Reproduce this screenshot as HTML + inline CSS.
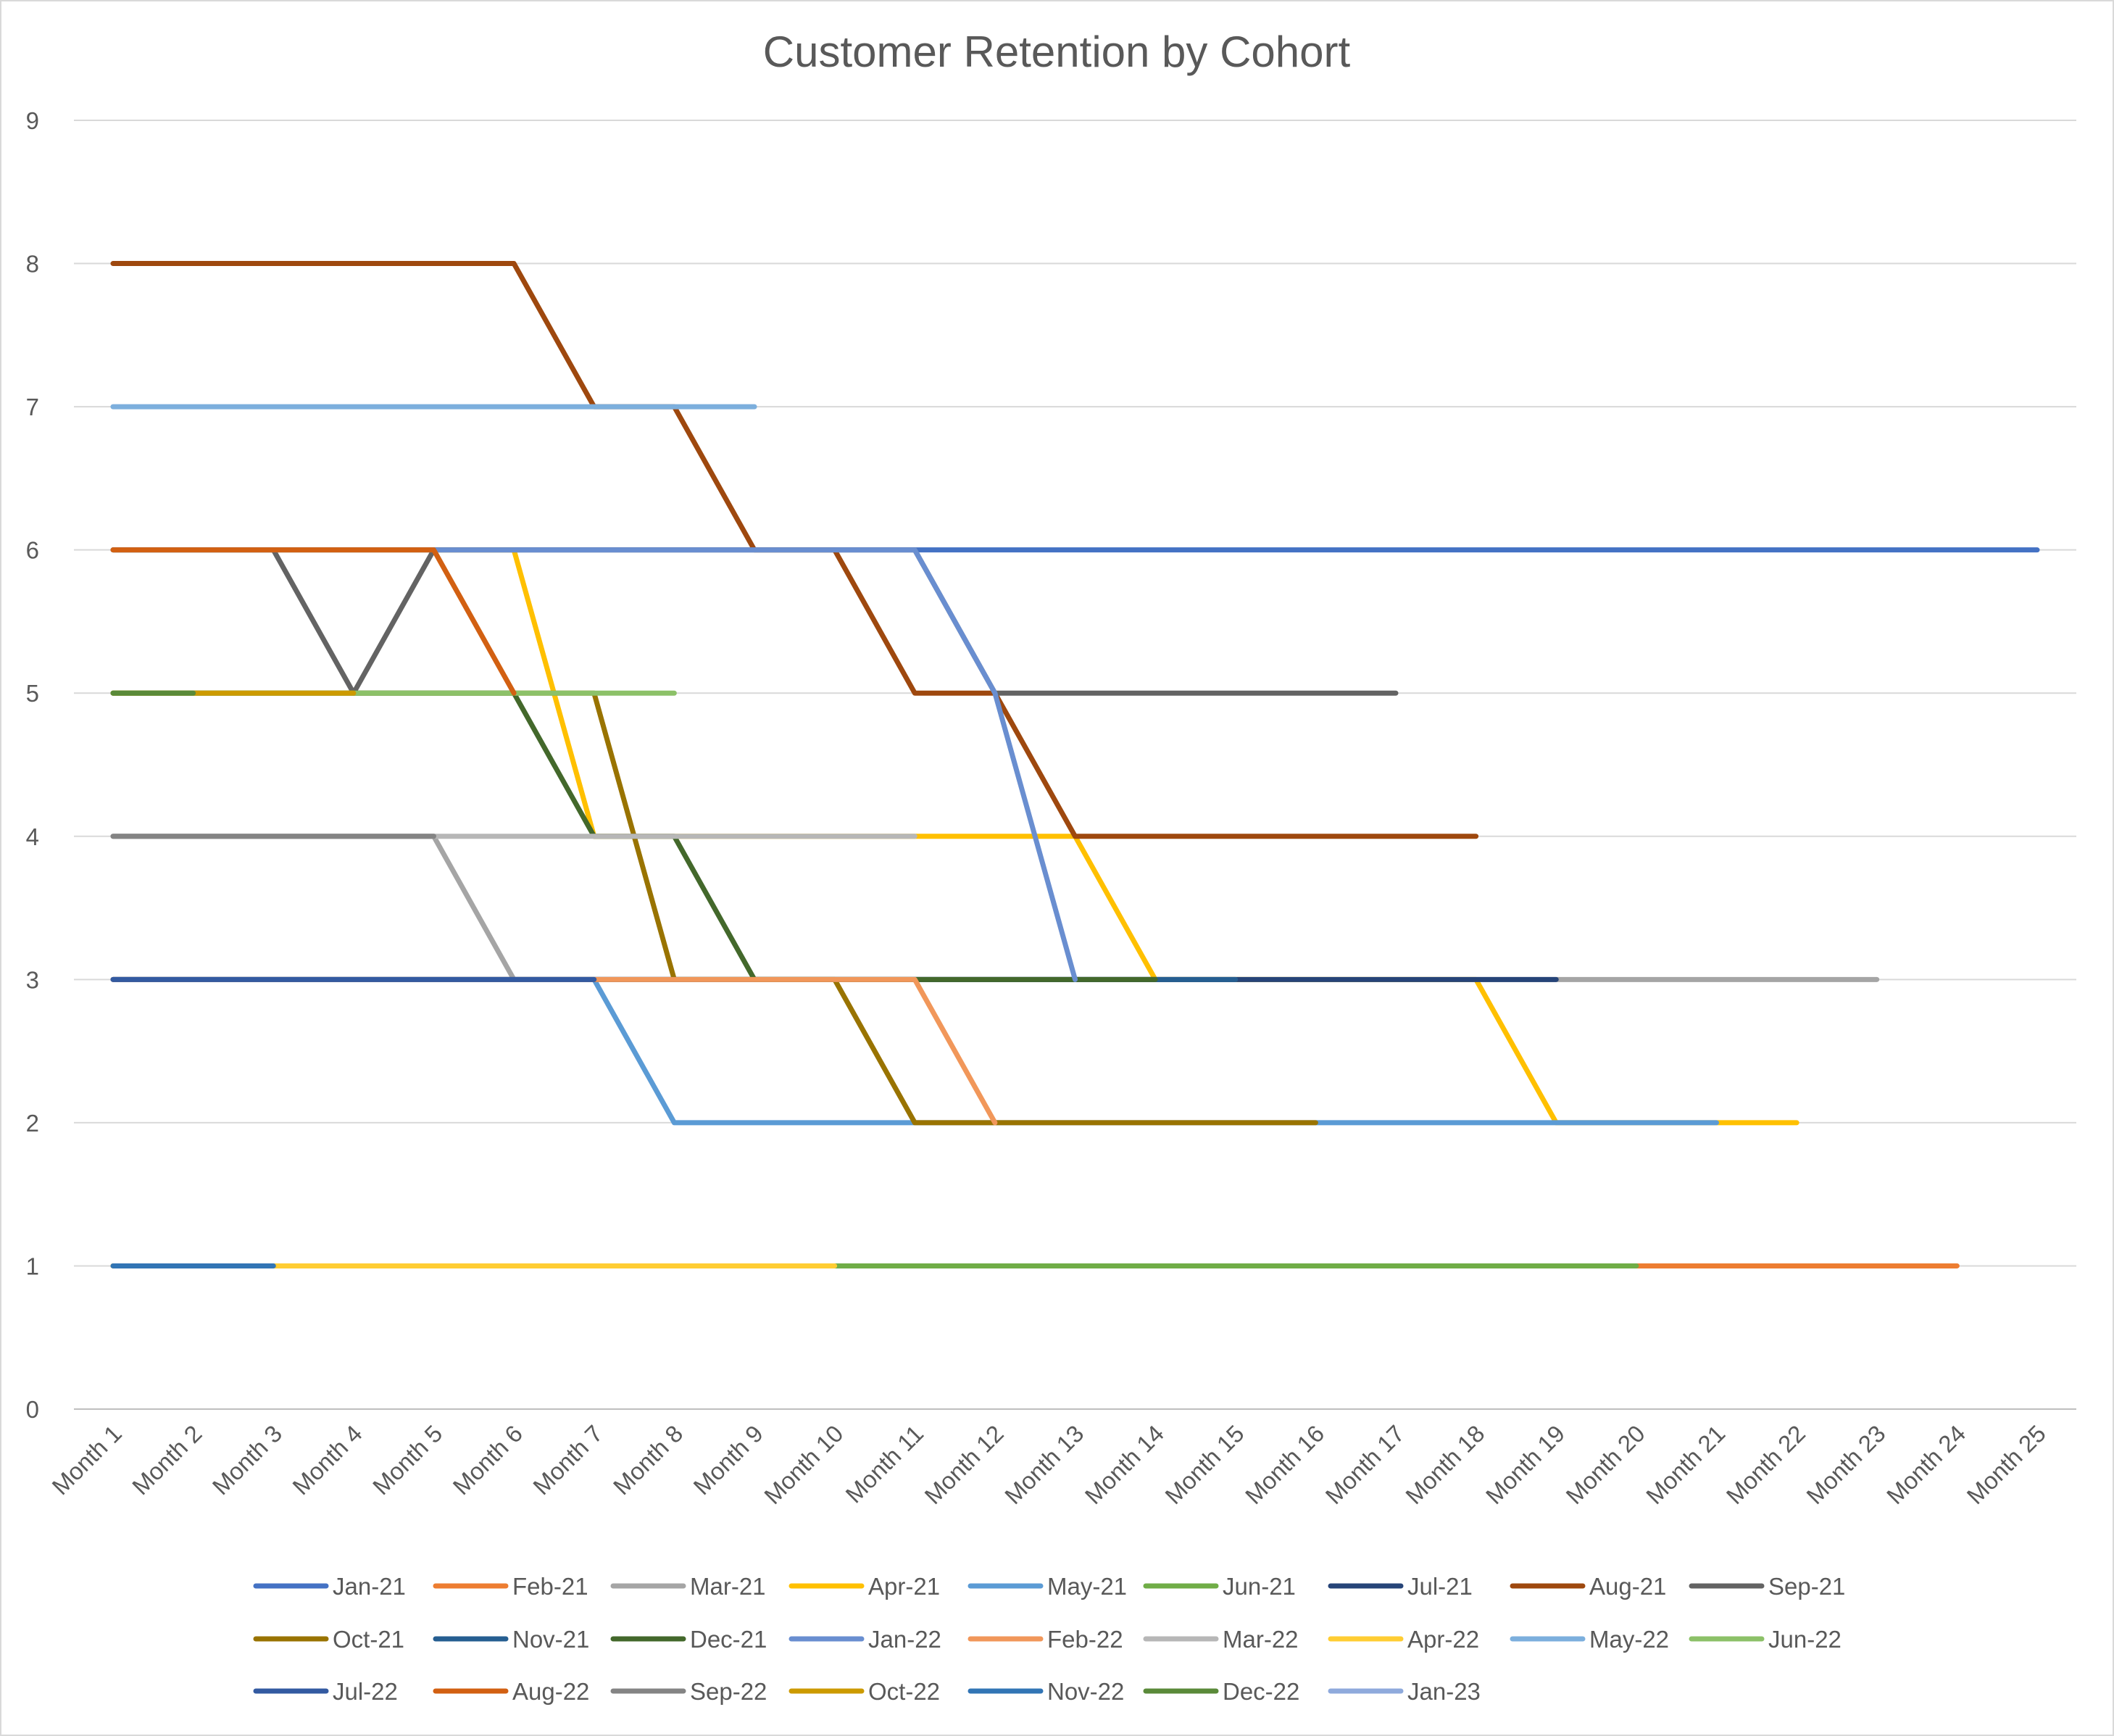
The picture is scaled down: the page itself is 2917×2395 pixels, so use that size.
<!DOCTYPE html>
<html><head><meta charset="utf-8"><style>
html,body{margin:0;padding:0;background:#fff}
svg{display:block;font-family:"Liberation Sans",sans-serif}
</style></head><body>
<svg id="chart" width="2917" height="2395" viewBox="0 0 2917 2395" xmlns="http://www.w3.org/2000/svg">
<rect x="1" y="1" width="2915" height="2393" fill="#fff" stroke="#d9d9d9" stroke-width="2"/>
<text x="1458" y="92" text-anchor="middle" font-size="60" fill="#595959">Customer Retention by Cohort</text>
<g id="grid"></g><g id="series"></g><g id="axes"></g><g id="legend"></g>
</svg>
<script>
const categories = Array.from({length:25},(_,i)=>'Month '+(i+1));
const yTicks = [0,1,2,3,4,5,6,7,8,9];
const cohorts = ['Jan-21','Feb-21','Mar-21','Apr-21','May-21','Jun-21','Jul-21','Aug-21','Sep-21','Oct-21','Nov-21','Dec-21','Jan-22','Feb-22','Mar-22','Apr-22','May-22','Jun-22','Jul-22','Aug-22','Sep-22','Oct-22','Nov-22','Dec-22','Jan-23'];
const colors = ['#4472C4','#ED7D31','#A5A5A5','#FFC000','#5B9BD5','#70AD47','#264478','#9E480E','#636363','#997300','#255E91','#43682B','#698ED0','#F1975A','#B7B7B7','#FFCD33','#7CAFDD','#8CC168','#335AA1','#D26012','#848484','#CC9A00','#3275B5','#5A8A39','#8FAADC'];
const s_jan21=[6,6,6,6,6,6,6,6,6,6,6,6,6,6,6,6,6,6,6,6,6,6,6,6,6];
const s_feb21=[1,1,1,1,1,1,1,1,1,1,1,1,1,1,1,1,1,1,1,1,1,1,1,1];
const s_mar21=[4,4,4,4,4,3,3,3,3,3,3,3,3,3,3,3,3,3,3,3,3,3,3];
const s_apr21=[6,6,6,6,6,6,4,4,4,4,4,4,4,3,3,3,3,3,2,2,2,2];
const s_may21=[3,3,3,3,3,3,3,2,2,2,2,2,2,2,2,2,2,2,2,2,2];
const s_jun21=[1,1,1,1,1,1,1,1,1,1,1,1,1,1,1,1,1,1,1,1];
const s_jul21=[3,3,3,3,3,3,3,3,3,3,3,3,3,3,3,3,3,3,3];
const s_aug21=[8,8,8,8,8,8,7,7,6,6,5,5,4,4,4,4,4,4];
const s_sep21=[6,6,6,5,6,6,6,6,6,6,6,5,5,5,5,5,5];
const s_oct21=[5,5,5,5,5,5,5,3,3,3,2,2,2,2,2,2];
const s_nov21=[3,3,3,3,3,3,3,3,3,3,3,3,3,3,3];
const s_dec21=[5,5,5,5,5,5,4,4,3,3,3,3,3,3];
const s_jan22=[6,6,6,6,6,6,6,6,6,6,6,5,3];
const s_feb22=[3,3,3,3,3,3,3,3,3,3,3,2];
const s_mar22=[4,4,4,4,4,4,4,4,4,4,4];
const s_apr22=[1,1,1,1,1,1,1,1,1,1];
const s_may22=[7,7,7,7,7,7,7,7,7];
const s_jun22=[5,5,5,5,5,5,5,5];
const s_jul22=[3,3,3,3,3,3,3];
const s_aug22=[6,6,6,6,6,5];
const s_sep22=[4,4,4,4,4];
const s_oct22=[5,5,5,5];
const s_nov22=[1,1,1];
const s_dec22=[5,5];
const s_jan23=[6];
const seriesValues=[s_jan21,s_feb21,s_mar21,s_apr21,s_may21,s_jun21,s_jul21,s_aug21,s_sep21,s_oct21,s_nov21,s_dec21,s_jan22,s_feb22,s_mar22,s_apr22,s_may22,s_jun22,s_jul22,s_aug22,s_sep22,s_oct22,s_nov22,s_dec22,s_jan23];

const NS='http://www.w3.org/2000/svg';
const X0=156,X1=2811,Y0=1944,Y9=166;
const xScale=i=>X0+(X1-X0)*i/(categories.length-1);
const yScale=v=>Y0-(Y0-Y9)*v/9;
function mk(tag,attrs,parent){const e=document.createElementNS(NS,tag);for(const k in attrs)e.setAttribute(k,attrs[k]);parent.appendChild(e);return e;}
const grid=document.getElementById('grid'),axes=document.getElementById('axes'),ser=document.getElementById('series'),leg=document.getElementById('legend');
yTicks.forEach(v=>{
  const l=mk('line',{x1:102,x2:2865,y1:yScale(v),y2:yScale(v),stroke:v===0?'#bfbfbf':'#d9d9d9','stroke-width':2},grid);
  
  
  const t=mk('text',{x:54,y:yScale(v)+12,'text-anchor':'end','font-size':33,fill:'#595959'},axes);
  t.textContent=v;
  
  
});
categories.forEach((c,i)=>{
  const x=xScale(i)+14,y=1980;
  const t=mk('text',{x:x,y:y,'text-anchor':'end','font-size':33,fill:'#595959',transform:`rotate(-45 ${x} ${y})`},axes);
  t.textContent=c;
  
  
});
seriesValues.forEach((vals,si)=>{
  const pts=vals.map((v,i)=>xScale(i)+','+yScale(v)).join(' ');
  const p=mk('polyline',{points:pts,fill:'none',stroke:colors[si],'stroke-width':7,'stroke-linejoin':'round','stroke-linecap':'round'},ser);
  
  
});
const colX=[353,601,846,1092,1339,1581,1836,2087,2334];
const rowY=[2188,2261,2333];
cohorts.forEach((c,i)=>{
  const x=colX[i%9],y=rowY[Math.floor(i/9)];
  const g=mk('g',{},leg);
  
  
  mk('line',{x1:x,x2:x+97,y1:y,y2:y,stroke:colors[i],'stroke-width':7,'stroke-linecap':'round'},g);
  const t=mk('text',{x:x+106,y:y+12,'font-size':33,fill:'#595959'},g);
  t.textContent=c;
});
</script>
</body></html>
